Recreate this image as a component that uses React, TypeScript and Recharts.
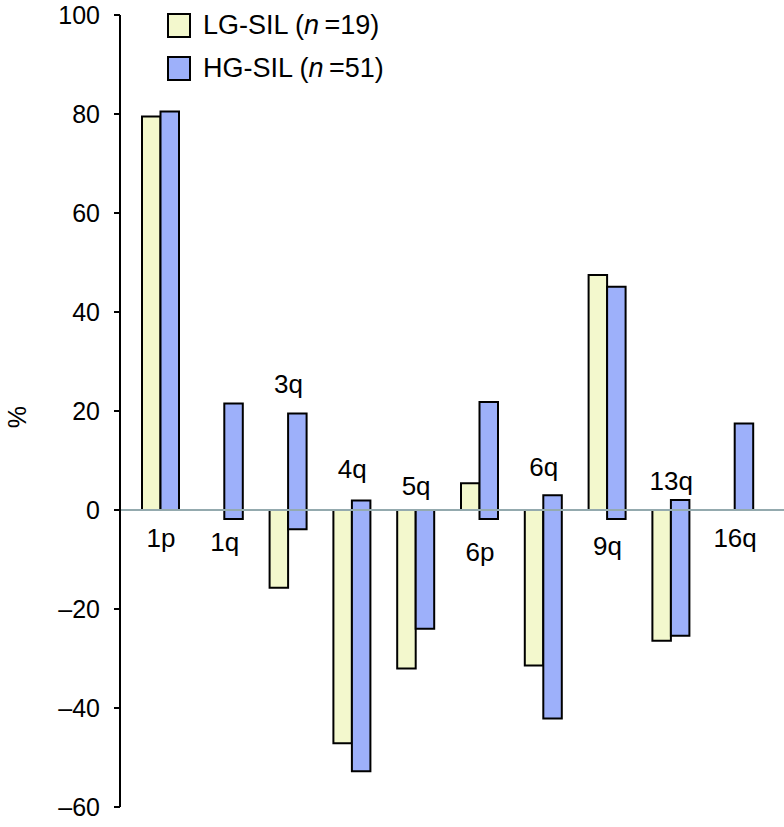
import React from 'react';
import {
  ComposedChart,
  Bar,
  Line,
  XAxis,
  YAxis,
  ReferenceLine,
  Legend,
  LabelList,
} from 'recharts';

const categories = ['1p', '1q', '3q', '4q', '5q', '6p', '6q', '9q', '13q', '16q'];
// gains (positive) and losses (negative), % of cases
const lgGain = [79.5, 0, 0, 0, 0, 5.4, 0, 47.5, 0, 0];
const lgLoss = [0, 0, -15.7, -47.1, -32.0, 0, -31.4, 0, -26.4, 0];
const hgGain = [80.5, 21.5, 19.5, 1.9, 0, 21.8, 3.0, 45.1, 2.0, 17.5];
const hgLoss = [0, -1.8, -3.9, -52.8, -24.0, -1.8, -42.1, -1.8, -25.4, 0];
// value at which each arm label sits
const labelLevel = [-7.5, -8.3, 23.6, 6.4, 3.0, -10.3, 6.8, -9.1, 4.0, -7.5];
const yTicks = [-60, -40, -20, 0, 20, 40, 60, 80, 100];

const LG_FILL = '#f3f8cd';
const HG_FILL = '#9db0fa';
const FONT = '"Liberation Sans", Arial, Helvetica, sans-serif';

const data = categories.map((cat, i) => ({
  cat,
  lgGain: lgGain[i],
  lgLoss: lgLoss[i],
  hgGain: hgGain[i],
  hgLoss: hgLoss[i],
  labelAt: labelLevel[i],
}));

const fmt = (v: number) => (v < 0 ? '\u2013' + Math.abs(v) : String(v));

function LegendBox() {
  const rows = [
    { fill: LG_FILL, name: 'LG-SIL', n: '19' },
    { fill: HG_FILL, name: 'HG-SIL', n: '51' },
  ];
  return (
    <div style={{ fontFamily: FONT, fontSize: 27, color: '#000', lineHeight: '43px' }}>
      {rows.map((r) => (
        <div key={r.name} style={{ display: 'flex', alignItems: 'center', whiteSpace: 'nowrap' }}>
          <span
            style={{
              display: 'inline-block',
              width: 20,
              height: 21,
              background: r.fill,
              border: '2px solid #000',
              marginRight: 12,
            }}
          />
          <span>
            {r.name} (<i>n</i>&#8201;={r.n})
          </span>
        </div>
      ))}
    </div>
  );
}

function ArmLabel(props: any) {
  const { x, y, value } = props;
  return (
    <text x={x} y={y} textAnchor="middle" fontSize={26} fontFamily={FONT} fill="#000">
      {value}
    </text>
  );
}

export default function App() {
  return (
    <div style={{ position: 'absolute', left: 0, top: 0, background: '#fff' }}>
      <ComposedChart
        width={784}
        height={827}
        data={data}
        stackOffset="sign"
        barGap={0}
        margin={{ top: 15, right: 0, bottom: 20, left: 0 }}
      >
        <XAxis dataKey="cat" hide padding={{ left: 9, right: 17 }} />
        <YAxis
          width={120}
          domain={[-60, 100]}
          ticks={yTicks}
          interval={0}
          tickFormatter={fmt}
          tick={{ fontSize: 25, fill: '#000', fontFamily: FONT }}
          tickSize={6}
          tickMargin={14}
          axisLine={{ stroke: '#000', strokeWidth: 2 }}
          tickLine={{ stroke: '#000', strokeWidth: 2 }}
          label={({ viewBox }: any) => (
            <text
              x={17}
              y={viewBox.y + viewBox.height / 2 + 6}
              transform={`rotate(-90, 17, ${viewBox.y + viewBox.height / 2 + 6})`}
              textAnchor="middle"
              dominantBaseline="central"
              fontSize={25}
              fontFamily={FONT}
              fill="#000"
            >
              %
            </text>
          )}
        />
        <Legend
          layout="horizontal"
          verticalAlign="middle"
          align="center"
          content={() => <LegendBox />}
          wrapperStyle={{ position: 'absolute', top: 4, left: 167, width: 'auto', height: 'auto' }}
        />
        <Bar dataKey="lgGain" stackId="lg" barSize={18.5} fill={LG_FILL} stroke="#000" strokeWidth={2} isAnimationActive={false} legendType="none" />
        <Bar dataKey="lgLoss" stackId="lg" barSize={18.5} fill={LG_FILL} stroke="#000" strokeWidth={2} isAnimationActive={false} legendType="none" />
        <Bar dataKey="hgGain" stackId="hg" barSize={18.5} fill={HG_FILL} stroke="#000" strokeWidth={2} isAnimationActive={false} legendType="none" />
        <Bar dataKey="hgLoss" stackId="hg" barSize={18.5} fill={HG_FILL} stroke="#000" strokeWidth={2} isAnimationActive={false} legendType="none" />
        <ReferenceLine y={0} stroke="#94aaae" strokeWidth={2} />
        <Line
          dataKey="labelAt"
          stroke="none"
          dot={false}
          activeDot={false}
          legendType="none"
          isAnimationActive={false}
        >
          <LabelList dataKey="cat" content={<ArmLabel />} />
        </Line>
      </ComposedChart>
    </div>
  );
}
